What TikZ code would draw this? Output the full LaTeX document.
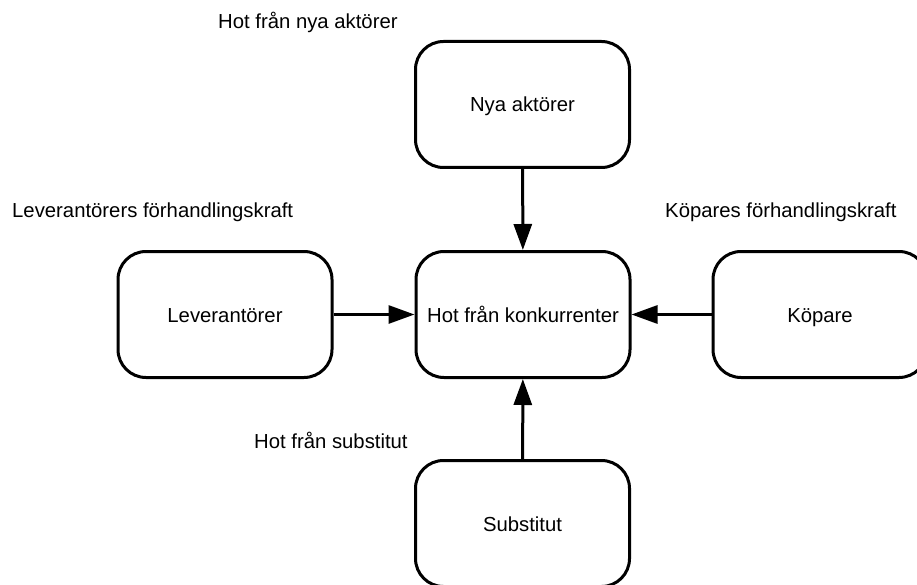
\documentclass[tikz,border=0pt]{standalone}
\usepackage{fontspec}
\setmainfont{Liberation Sans}
\usetikzlibrary{arrows.meta,positioning}

\begin{document}
\begin{tikzpicture}[x=1pt, y=-1pt,
  font=\fontsize{20.3}{24}\selectfont, >={Triangle[length=26pt,width=18pt]},
  force/.style={draw, rounded corners=28pt, line width=3pt, align=center,
                text height=15pt, text depth=0pt,
                minimum width=214pt, minimum height=126pt},
  tag/.style={anchor=base west, inner sep=0pt},
  arr/.style={->, line width=3pt}]
  \useasboundingbox (0,0) rectangle (917,585);
  \node[force] (nya)  at (522.5,104.5) {Nya aktörer};
  \node[force] (hot)  at (523,314.5)   {Hot från konkurrenter};
  \node[force] (lev)  at (225,314.5)   {Leverantörer};
  \node[force] (kop)  at (820,314.5)   {Köpare};
  \node[force] (sub)  at (522.5,523.5) {Substitut};
  \node[tag] (tnya) at (218,29)  {Hot från nya aktörer};
  \node[tag] (tlev) at (12,218)  {Leverantörers förhandlingskraft};
  \node[tag] (tkop) at (665,218) {Köpares förhandlingskraft};
  \node[tag] (tsub) at (254,448) {Hot från substitut};
  \foreach \p in {nya,lev,kop,sub} {\draw[arr] (\p)--(hot);}
\end{tikzpicture}
\end{document}
